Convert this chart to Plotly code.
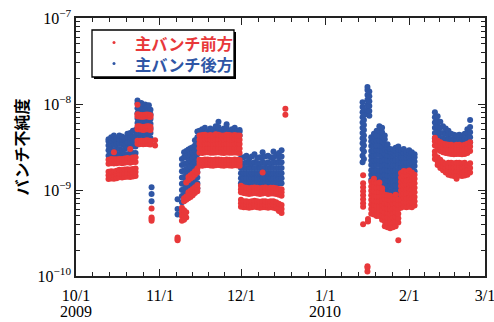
import plotly.graph_objects as go
import pandas as pd

UNIT = 1e-9  # values below are in units of 1e-9
START = pd.Timestamp("2009-10-01")

series_names = ["主バンチ前方", "主バンチ後方"]
y_title = "バンチ不純度"

x_tick_dates = ["2009-10-01", "2009-11-01", "2009-12-01", "2010-01-01", "2010-02-01", "2010-03-01"]
x_tick_text = ["10/1", "11/1", "12/1", "1/1", "2/1", "3/1"]
x_year_dates = ["2009-10-01", "2010-01-01"]
x_year_text = ["2009", "2010"]
y_tick_vals = [1e-10, 1e-9, 1e-8, 1e-7]
y_tick_text = ["10<sup>\u221210</sup>", "10<sup>\u22129</sup>", "10<sup>\u22128</sup>", "10<sup>\u22127</sup>"]

# ---- data: day offsets from 2009-10-01, and readings per day (x 1e-9) ----
oct_a_days = [12, 13, 14, 15, 16, 17, 18, 19, 20, 21, 22]
oct_a_front = [
    [1.34, 1.48, 1.63, 2.02, 2.25],
    [1.36, 1.50, 1.65, 2.05, 2.30],
    [1.35, 1.49, 1.64, 2.03, 2.28, 2.75],
    [1.37, 1.52, 1.67, 2.05, 2.28],
    [1.41, 1.56, 1.72, 2.07, 2.30],
    [1.40, 1.55, 1.71, 2.05, 2.30],
    [1.42, 1.57, 1.73, 2.08, 2.32],
    [1.43, 1.58, 1.74, 2.10, 2.35],
    [1.42, 1.57, 1.73, 2.08, 2.33, 3.0],
    [1.44, 1.60, 1.76, 2.12, 2.38],
    [1.45, 1.62, 1.78, 2.12, 2.40],
]
oct_a_back = [
    [2.5, 2.9, 3.3, 3.7, 3.9],
    [2.6, 3.0, 3.4, 3.8, 4.1],
    [2.5, 2.9, 3.4, 3.9, 4.3],
    [2.6, 3.0, 3.4, 3.8, 4.0],
    [2.6, 3.0, 3.5, 3.9, 4.3],
    [2.5, 2.9, 3.4, 3.9, 4.2],
    [2.6, 3.0, 3.4, 3.8, 4.0],
    [2.6, 3.1, 3.6, 4.1, 4.5],
    [2.7, 3.1, 3.6, 4.1, 4.6],
    [2.7, 3.2, 3.7, 4.2, 4.9],
    [2.7, 3.2, 3.7, 4.3, 5.0],
]

oct_b_days = [22.7, 23.4, 24.1, 24.8, 25.5, 26.2, 26.9, 27.5]
oct_b_front = [
    [3.45, 3.75, 5.1, 5.5, 7.2, 7.6, 9.8],
    [3.4, 3.7, 5.1, 5.5, 7.15, 7.5],
    [3.45, 3.75, 5.05, 5.45, 7.1, 7.45],
    [3.4, 3.72, 5.0, 5.4, 7.1, 7.4],
    [3.42, 3.74, 5.05, 5.45, 7.15, 7.5],
    [3.45, 3.78, 5.1, 5.5, 7.2, 7.55],
    [3.4, 3.75, 5.05, 5.5, 7.1, 7.5],
    [3.38, 3.72, 5.0, 5.45, 7.05, 7.4],
]
oct_b_back = [
    [3.5, 4.0, 4.6, 5.2, 6.0, 6.8, 7.8, 8.9, 10.2, 11.0],
    [3.5, 4.0, 4.6, 5.2, 6.0, 6.8, 7.8, 8.9, 10.0],
    [3.6, 4.1, 4.6, 5.3, 6.0, 6.9, 7.9, 9.0, 10.3],
    [3.5, 4.0, 4.6, 5.2, 6.0, 6.8, 7.8, 8.9, 9.8],
    [3.5, 4.0, 4.6, 5.2, 6.0, 6.8, 7.8, 8.8, 9.9],
    [3.6, 4.1, 4.7, 5.3, 6.1, 6.9, 7.8, 8.8, 9.6],
    [3.5, 4.0, 4.6, 5.2, 6.0, 6.8, 7.7, 8.7, 9.7],
    [3.5, 4.0, 4.6, 5.2, 5.9, 6.7, 7.6, 8.6],
]

oct_c_days = [27.9, 29.2]
oct_c_front = [[0.44, 0.46, 0.48, 0.61], [3.3, 3.8]]
oct_c_back = [[0.74, 0.90, 1.08], []]

nov_a_days = [37.5, 39.1, 39.9, 40.7, 41.5, 42.3, 43.1, 43.9, 44.8]
nov_a_front = [
    [0.26, 0.27, 0.28],
    [0.44, 0.50, 0.56, 0.62],
    [0.45, 0.51, 0.58, 0.74, 0.80],
    [0.48, 0.55, 0.77, 0.84, 1.22],
    [0.80, 0.87, 0.94, 1.30, 1.42],
    [0.83, 0.90, 0.98, 1.36, 1.48],
    [0.87, 0.95, 1.03, 1.42, 1.56],
    [0.92, 1.00, 1.08, 1.50, 1.65],
    [0.97, 1.05, 1.14, 1.60, 1.78],
]
nov_a_back = [
    [0.52, 0.60, 0.78],
    [0.72, 0.85, 1.0, 1.18, 1.4, 1.65, 1.95, 2.3],
    [0.75, 0.88, 1.03, 1.2, 1.42, 1.68, 2.0, 2.4, 2.75],
    [0.82, 0.95, 1.1, 1.28, 1.5, 1.75, 2.05, 2.4, 2.85],
    [0.88, 1.0, 1.15, 1.33, 1.55, 1.8, 2.1, 2.5, 2.95],
    [0.92, 1.05, 1.2, 1.4, 1.62, 1.88, 2.2, 2.6, 3.05],
    [0.97, 1.1, 1.27, 1.47, 1.7, 1.98, 2.3, 2.7, 3.15],
    [1.0, 1.15, 1.33, 1.55, 1.8, 2.1, 2.45, 2.9, 3.3, 3.8],
    [1.05, 1.2, 1.4, 1.62, 1.9, 2.2, 2.6, 3.0, 3.5, 4.1, 4.8],
]

nov_b_days = [45.6, 46.6, 47.6, 48.6, 49.6, 50.6, 51.6, 52.6, 53.6, 54.6, 55.6, 56.6, 57.6, 58.6, 59.6, 60.4]
nov_b_front = [
    [1.93, 2.08, 2.25, 2.72, 3.05, 3.45, 3.85, 4.3],
    [1.92, 2.07, 2.24, 2.70, 3.03, 3.42, 3.85, 4.35],
    [1.94, 2.09, 2.26, 2.73, 3.06, 3.46, 3.9, 4.4],
    [1.95, 2.1, 2.27, 2.74, 3.07, 3.47, 3.9, 4.3],
    [1.93, 2.08, 2.25, 2.72, 3.05, 3.45, 3.88, 4.35],
    [1.92, 2.07, 2.24, 2.71, 3.04, 3.44, 3.86, 4.3],
    [1.94, 2.09, 2.26, 2.73, 3.06, 3.46, 3.9, 4.45],
    [1.95, 2.1, 2.27, 2.74, 3.07, 3.47, 3.9, 4.4],
    [1.93, 2.08, 2.25, 2.72, 3.05, 3.45, 3.88, 4.3],
    [1.92, 2.07, 2.24, 2.70, 3.03, 3.43, 3.85, 4.3],
    [1.94, 2.09, 2.26, 2.73, 3.06, 3.46, 3.9, 4.4],
    [1.93, 2.08, 2.25, 2.72, 3.05, 3.45, 3.88, 4.35],
    [1.92, 2.07, 2.24, 2.71, 3.04, 3.44, 3.86, 4.3],
    [1.94, 2.09, 2.26, 2.73, 3.06, 3.46, 3.9, 4.35],
    [1.93, 2.08, 2.25, 2.72, 3.05, 3.45, 3.88, 4.3],
    [1.92, 2.07, 2.24, 2.70, 3.03, 3.42, 3.85, 4.3],
]
nov_b_back = [
    [4.3, 4.75, 4.9],
    [4.3, 4.75, 5.1],
    [4.3, 4.75, 5.3],
    [4.3, 4.7, 4.8],
    [4.3, 4.75, 5.2],
    [4.3, 4.75, 5.0],
    [4.3, 4.8, 5.5],
    [4.3, 4.8, 5.4, 6.2],
    [4.3, 4.75, 5.0],
    [4.3, 4.75, 5.2],
    [4.3, 4.8, 5.3, 5.8],
    [4.3, 4.75, 4.9],
    [4.3, 4.75, 5.1],
    [4.3, 4.8, 5.3],
    [4.3, 4.75, 4.9],
    [4.3, 4.75, 5.0],
]

dec_days = [60.9, 61.9, 62.9, 63.9, 64.9, 65.9, 66.9, 67.9, 68.9, 69.9, 70.9, 71.9, 72.9, 73.9, 74.9, 75.9, 77.3]
dec_front = [
    [0.64, 0.70, 0.77, 0.94, 1.02, 1.12],
    [0.63, 0.68, 0.74, 0.92, 0.99, 1.08],
    [0.63, 0.68, 0.74, 0.91, 0.98, 1.06],
    [0.62, 0.67, 0.73, 0.90, 0.97, 1.05],
    [0.63, 0.68, 0.74, 0.91, 0.98, 1.06],
    [0.64, 0.69, 0.75, 0.92, 0.99, 1.07],
    [0.63, 0.68, 0.74, 0.91, 0.98, 1.06],
    [0.62, 0.67, 0.73, 0.90, 0.97, 1.05],
    [0.63, 0.68, 0.74, 0.91, 0.98, 1.06, 1.6],
    [0.63, 0.68, 0.74, 0.92, 0.99, 1.07],
    [0.62, 0.67, 0.73, 0.90, 0.97, 1.05],
    [0.63, 0.68, 0.74, 0.91, 0.98, 1.06],
    [0.62, 0.68, 0.74, 0.91, 0.98, 1.06],
    [0.61, 0.66, 0.72, 0.90, 0.97, 1.05],
    [0.57, 0.63, 0.69, 0.88, 0.95, 1.03],
    [0.54, 0.60, 0.67, 0.86, 0.94, 1.02],
    [7.5, 8.8],
]
dec_back = [
    [1.2, 1.37, 1.57, 1.8, 2.05, 2.35],
    [1.2, 1.37, 1.57, 1.8, 2.05, 2.4],
    [1.2, 1.37, 1.57, 1.8, 2.1, 2.5],
    [1.2, 1.37, 1.57, 1.8, 2.05, 2.3],
    [1.2, 1.37, 1.57, 1.8, 2.05, 2.45],
    [1.2, 1.37, 1.57, 1.8, 2.1, 2.6],
    [1.2, 1.37, 1.57, 1.8, 2.05, 2.35],
    [1.2, 1.37, 1.57, 1.8, 2.05, 2.4],
    [1.2, 1.37, 1.57, 1.8, 2.1, 2.4, 2.75],
    [1.2, 1.37, 1.57, 1.8, 2.05, 2.45],
    [1.2, 1.37, 1.57, 1.8, 2.1, 2.5],
    [1.2, 1.37, 1.57, 1.8, 2.05, 2.4],
    [1.2, 1.37, 1.57, 1.8, 2.1, 2.4, 2.8],
    [1.2, 1.37, 1.57, 1.8, 2.1, 2.55],
    [1.2, 1.37, 1.57, 1.8, 2.1, 2.4, 2.7],
    [1.2, 1.37, 1.57, 1.8, 2.1, 2.45, 2.9],
    [],
]

jan_a_days = [105.8, 106.0, 106.3, 107.6, 107.8, 108.3]
jan_a_front = [
    [],
    [0.40, 0.64, 0.70, 0.78, 0.87, 0.97, 1.08, 1.20, 1.48],
    [],
    [0.113, 0.125, 0.13],
    [0.43, 0.46],
    [],
]
jan_a_back = [
    [2.1, 2.5, 3.0, 3.5, 4.0, 4.6, 5.3, 6.1, 7.0, 8.0, 9.2, 10.5],
    [],
    [2.3, 2.8, 3.3, 3.8, 4.3, 5.0, 5.7, 6.5, 7.5, 8.6],
    [7.6, 8.6, 9.8, 11.2, 12.7, 14.5, 15.8],
    [],
    [7.3, 8.3, 9.5, 10.8, 12.3, 14.0],
]

jan_b_days = [109, 110, 111, 112, 113, 114, 115, 116, 117, 118, 119, 120, 121, 122, 123, 124, 125]
jan_b_front = [
    [0.53, 0.60, 0.68, 0.77, 0.87, 0.98, 1.10, 1.25],
    [0.52, 0.59, 0.67, 0.76, 0.86, 0.97, 1.09, 1.24, 1.35],
    [0.50, 0.57, 0.65, 0.74, 0.84, 0.95, 1.07, 1.20],
    [0.50, 0.57, 0.65, 0.74, 0.84, 0.95, 1.08, 1.22],
    [0.45, 0.51, 0.58, 0.66, 0.75, 0.85, 0.96, 1.05],
    [0.38, 0.43, 0.49, 0.55, 0.62, 0.70, 0.79, 0.88],
    [0.37, 0.42, 0.48, 0.54, 0.61, 0.69, 0.78, 0.87],
    [0.36, 0.41, 0.47, 0.53, 0.60, 0.68, 0.77, 0.86],
    [0.37, 0.42, 0.48, 0.54, 0.61, 0.69, 0.78],
    [0.38, 0.43, 0.49, 0.55, 0.62, 0.70, 0.79, 0.88],
    [0.26, 0.42, 0.47, 0.53, 0.60, 0.68, 0.77],
    [0.62, 0.70, 0.78, 0.88, 0.99, 1.11, 1.25, 1.40, 1.58],
    [0.64, 0.72, 0.81, 0.91, 1.03, 1.16, 1.30, 1.47, 1.66],
    [0.63, 0.71, 0.80, 0.90, 1.02, 1.15, 1.30, 1.46, 1.64],
    [0.64, 0.72, 0.81, 0.92, 1.04, 1.17, 1.32, 1.49, 1.68],
    [0.63, 0.71, 0.80, 0.90, 1.02, 1.15, 1.30, 1.46, 1.60],
    [0.66, 0.74, 0.83, 0.94, 1.06, 1.20, 1.35, 1.50],
]
jan_b_back = [
    [1.32, 1.5, 1.7, 1.95, 2.2, 2.5, 2.85, 3.25, 3.7, 4.1],
    [1.3, 1.48, 1.68, 1.92, 2.2, 2.5, 2.85, 3.25, 3.7, 4.2, 4.5],
    [1.3, 1.48, 1.7, 1.95, 2.22, 2.55, 2.9, 3.3, 3.75, 4.3, 4.9],
    [1.3, 1.48, 1.7, 1.95, 2.22, 2.55, 2.9, 3.3, 3.8, 4.3, 4.9, 5.5],
    [1.1, 1.27, 1.45, 1.65, 1.9, 2.17, 2.5, 2.85, 3.25, 3.7, 4.2, 4.7, 5.3],
    [0.88, 1.0, 1.15, 1.32, 1.5, 1.72, 1.97, 2.25, 2.6, 2.95, 3.4, 3.9, 4.3],
    [0.86, 0.98, 1.12, 1.28, 1.47, 1.68, 1.92, 2.2, 2.5, 2.85, 3.15, 3.4],
    [0.85, 0.97, 1.11, 1.27, 1.45, 1.66, 1.9, 2.17, 2.48, 2.8, 3.0],
    [0.86, 0.98, 1.12, 1.28, 1.47, 1.68, 1.92, 2.2, 2.5, 2.75, 2.95],
    [0.87, 0.99, 1.13, 1.3, 1.48, 1.7, 1.95, 2.22, 2.55, 2.85, 3.1],
    [0.88, 1.0, 1.15, 1.32, 1.5, 1.72, 1.97, 2.25, 2.6, 2.95, 3.2],
    [1.6, 1.82, 2.08, 2.38, 2.7, 2.9],
    [1.6, 1.82, 2.08, 2.38, 2.7, 3.0],
    [1.6, 1.82, 2.08, 2.38, 2.6, 2.8],
    [1.6, 1.82, 2.08, 2.38, 2.7, 2.9],
    [1.6, 1.82, 2.08, 2.38, 2.6, 2.75],
    [1.65, 1.9, 2.15, 2.4, 2.6],
]

feb_days = [132.5, 133.5, 134.5, 135.5, 136.5, 137.5, 138.5, 139.5, 140.5, 141.5, 142.5, 143.5, 144.5, 145.5]
feb_front = [
    [2.3, 2.55, 2.8, 3.3, 3.7, 4.05],
    [1.95, 2.15, 2.4, 3.0, 3.35, 3.75],
    [1.8, 2.0, 2.25, 2.85, 3.2, 3.6],
    [1.7, 1.9, 2.1, 2.75, 3.1, 3.45],
    [1.6, 1.8, 2.02, 2.7, 3.0, 3.4],
    [1.5, 1.68, 1.88, 2.08, 2.65, 2.97, 3.35],
    [1.47, 1.65, 1.85, 2.07, 2.62, 2.95, 3.35],
    [1.45, 1.63, 1.83, 2.05, 2.6, 2.93, 3.3],
    [1.35, 1.47, 1.65, 1.85, 2.07, 2.62, 2.95, 3.35],
    [1.47, 1.65, 1.85, 2.07, 2.62, 2.95, 3.35],
    [1.45, 1.63, 1.83, 2.05, 2.6, 2.93, 3.3],
    [1.47, 1.65, 1.85, 2.07, 2.62, 2.95, 3.35],
    [1.5, 1.7, 1.95, 2.7, 3.05, 3.45],
    [1.6, 1.8, 2.05, 2.85, 3.2, 3.6],
]
feb_back = [
    [4.0, 4.6, 5.3, 6.1, 7.0, 8.0],
    [3.7, 4.2, 4.8, 5.5, 6.3, 7.2],
    [3.5, 4.0, 4.6, 5.3, 6.2],
    [3.5, 4.0, 4.6, 5.5],
    [3.4, 3.9, 4.5, 5.2],
    [3.4, 3.9, 4.4, 4.9],
    [3.4, 3.9, 4.5],
    [3.4, 3.9, 4.4],
    [3.4, 3.85, 4.3],
    [3.4, 3.9, 4.4],
    [3.4, 3.85, 4.3],
    [3.4, 3.9, 4.5],
    [3.5, 4.0, 4.6, 5.1],
    [3.6, 4.1, 4.7, 5.4, 6.5],
]

segments = [
    (oct_a_days, oct_a_front, oct_a_back),
    (oct_b_days, oct_b_front, oct_b_back),
    (oct_c_days, oct_c_front, oct_c_back),
    (nov_a_days, nov_a_front, nov_a_back),
    (nov_b_days, nov_b_front, nov_b_back),
    (dec_days, dec_front, dec_back),
    (jan_a_days, jan_a_front, jan_a_back),
    (jan_b_days, jan_b_front, jan_b_back),
    (feb_days, feb_front, feb_back),
]

def collect(idx):
    xs, ys = [], []
    for seg in segments:
        days, vals = seg[0], seg[idx]
        for d, vs in zip(days, vals):
            for v in vs:
                xs.append(START + pd.Timedelta(days=d))
                ys.append(v * UNIT)
    return xs, ys

RED = "#e8383a"
BLUE = "#2f56a5"
AXIS = "#222222"
MSIZE = 6
TICKFONT = dict(family="Liberation Serif", size=16, color="black")

fx, fy = collect(1)
bx, by = collect(2)

fig = go.Figure()
fig.add_trace(go.Scatter(x=bx, y=by, mode="markers", name=series_names[1], showlegend=False,
                         marker=dict(color=BLUE, size=MSIZE, line=dict(width=0))))
fig.add_trace(go.Scatter(x=fx, y=fy, mode="markers", name=series_names[0], showlegend=False,
                         marker=dict(color=RED, size=MSIZE, line=dict(width=0))))

# minor ticks: 5 subdivisions per month
month_ts = [pd.Timestamp(d) for d in x_tick_dates]
x_minor = []
for a, b in zip(month_ts[:-1], month_ts[1:]):
    for k in range(1, 5):
        x_minor.append(a + (b - a) * k / 5)
y_minor = [m * 10.0 ** e for e in (-10, -9, -8) for m in range(2, 10)]

# ---- legend box (drawn by hand, in plot-area fractions) ----
PW, PH = 409.0, 258.0  # plot-area size in px
def px(v): return v / PW
def py(v): return v / PH
box_l, box_r, box_t, box_b = px(16), px(158), 1 - py(12), 1 - py(59)
shadow = 2
shapes = [
    dict(type="rect", xref="paper", yref="paper", layer="above",
         x0=box_l + px(shadow), x1=box_r + px(shadow), y0=box_b - py(shadow), y1=box_t - py(shadow),
         fillcolor="black", line=dict(width=0)),
    dict(type="rect", xref="paper", yref="paper", layer="above",
         x0=box_l, x1=box_r, y0=box_b, y1=box_t,
         fillcolor="white", line=dict(color="black", width=1.3)),
]
row_y = [1 - py(24.5), 1 - py(45.5)]
for col, ry in zip([RED, BLUE], row_y):
    shapes.append(dict(type="circle", xref="paper", yref="paper", layer="above",
                       x0=px(38) - px(1.5), x1=px(38) + px(1.5), y0=ry - py(1.5), y1=ry + py(1.5),
                       fillcolor=col, line=dict(width=0)))
legend_text = "<br>".join(f'<span style="color:{c}">{n}</span>' for n, c in zip(series_names, [RED, BLUE]))
annotations = [dict(xref="paper", yref="paper", x=px(57), y=1 - py(35), xanchor="left", yanchor="middle",
                    align="left", text=legend_text, showarrow=False,
                    font=dict(family="Noto Sans CJK JP", size=16.2, color=RED, weight="bold"))]
# year line under the month ticks
for d, t in zip(x_year_dates, x_year_text):
    annotations.append(dict(xref="x", yref="paper", x=d, y=-py(35), xanchor="center", yanchor="middle",
                            text=t, showarrow=False, font=TICKFONT))

fig.update_layout(
    width=494, height=322,
    margin=dict(l=76, r=9, t=18, b=46),
    paper_bgcolor="white", plot_bgcolor="white",
    font=TICKFONT,
    showlegend=False,
    shapes=shapes, annotations=annotations,
    xaxis=dict(type="date", range=[x_tick_dates[0], x_tick_dates[-1]], automargin=False,
               tickmode="array", tickvals=x_tick_dates, ticktext=x_tick_text, tickfont=TICKFONT,
               ticklabelstandoff=4, ticklabeloverflow="allow",
               ticks="inside", ticklen=7, tickwidth=1, tickcolor=AXIS,
               showline=True, linecolor=AXIS, linewidth=1.5, mirror="allticks",
               showgrid=False, zeroline=False,
               minor=dict(tickvals=x_minor, ticks="inside", ticklen=4, tickcolor=AXIS, showgrid=False)),
    yaxis=dict(type="log", range=[-10, -7], automargin=False,
               tickmode="array", tickvals=y_tick_vals, ticktext=y_tick_text, tickfont=TICKFONT,
               ticklabeloverflow="allow",
               ticks="inside", ticklen=7, tickwidth=1, tickcolor=AXIS,
               showline=True, linecolor=AXIS, linewidth=1.5, mirror="allticks",
               showgrid=False, zeroline=False,
               minor=dict(tickvals=y_minor, ticks="inside", ticklen=4, tickcolor=AXIS, showgrid=False),
               title=dict(text=y_title, standoff=5,
                          font=dict(family="Noto Sans CJK JP", size=16, weight="bold"))),
)

fig.write_html("out.html", config={"displayModeBar": False},
               post_script="document.body.style.margin='0px';")
